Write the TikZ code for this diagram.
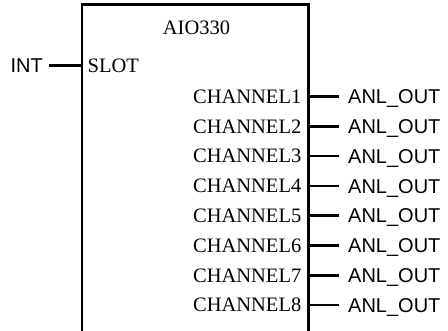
\documentclass[tikz,border=0pt]{standalone}
\usepackage{fontspec}
\setmainfont{Liberation Serif}
\newfontfamily\sansarial{Liberation Sans}
\begin{document}
\begin{tikzpicture}[x=1pt,y=-1pt,
  wire/.style={line width=2.5pt},
  pinlabel/.style={font=\fontsize{20.5}{24}\selectfont, inner sep=0pt,
    text height=13.6pt, text depth=0pt},
  signal/.style={font=\sansarial\fontsize{20}{24}\selectfont, inner xsep=0pt,
    inner ysep=0pt, text height=14.3pt, text depth=0pt}]
\useasboundingbox (0,0) rectangle (448,331);

% function block, open at the bottom
\draw[wire] (82,331) -- (82,4.7) -- (308.5,4.7) -- (308.5,331);
\node[pinlabel] (title) at (196.5,27.5) {AIO330};

% input pin
\node[pinlabel, anchor=west] (slot) at (87.5,65.5) {SLOT};
\coordinate (slotpin) at (82,65.5);
\node[signal, anchor=east, inner xsep=6pt] (int) at (49,65.5) {INT};
\draw[wire] (int.east) -- (slotpin);

% output pins
\foreach \i in {1,...,8} {
  \pgfmathsetmacro\yy{96.5+29.8*(\i-1)}
  \node[pinlabel, anchor=east] (ch\i) at (301.5,\yy) {CHANNEL\i};
  \coordinate (pin\i) at (308.5,\yy);
  \node[signal, anchor=west, inner xsep=9pt] (out\i) at (339,\yy) {ANL\_OUT};
  \draw[wire] (pin\i) -- (out\i.west);
}
\end{tikzpicture}
\end{document}
